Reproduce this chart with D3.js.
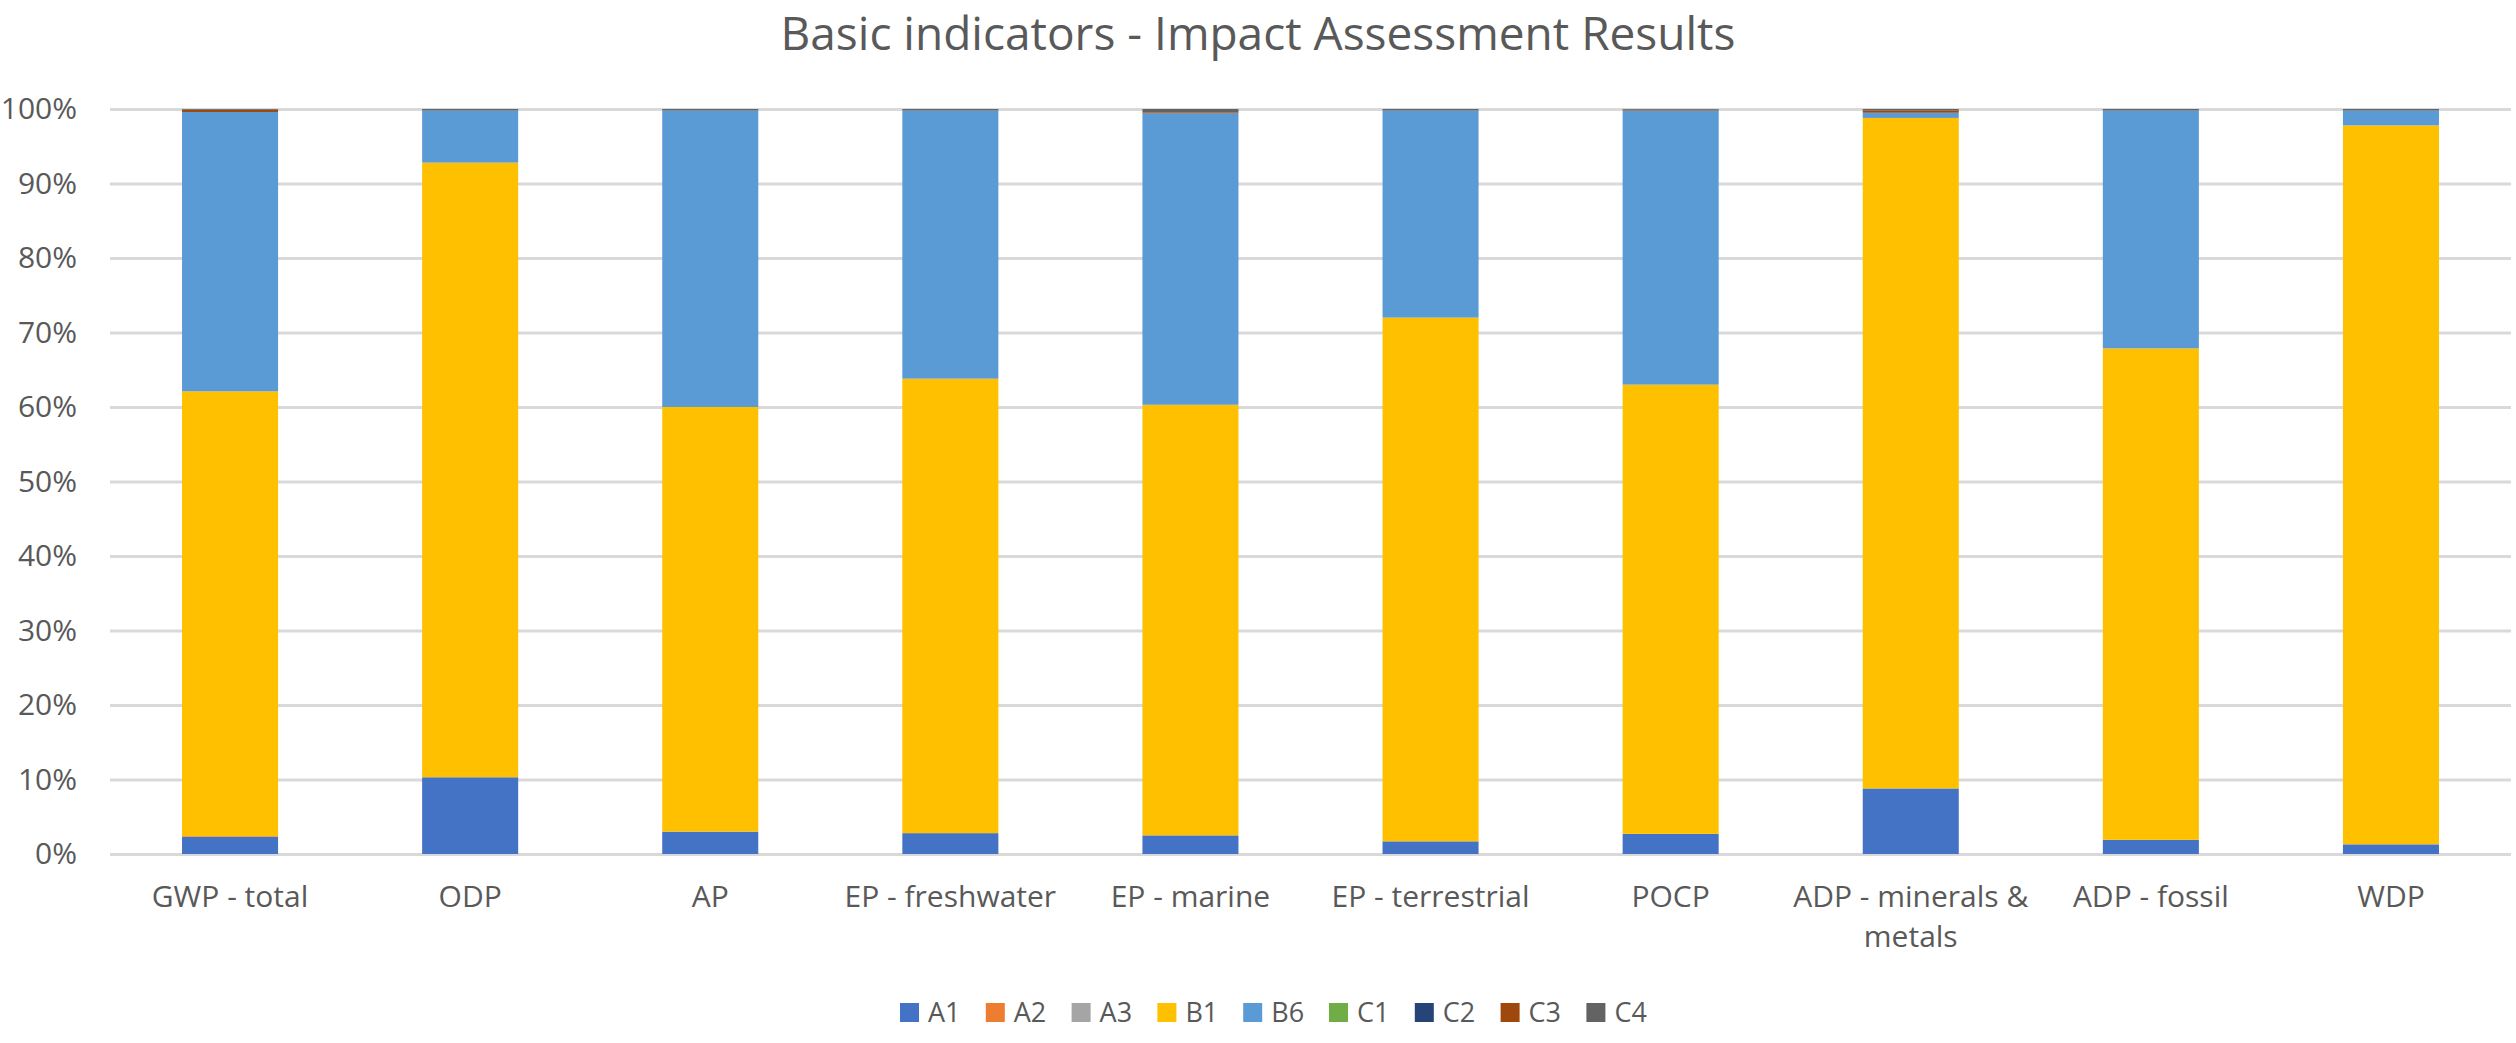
<!DOCTYPE html>
<html>
<head>
<meta charset="utf-8">
<script src="https://cdn.jsdelivr.net/npm/d3@7"></script>
<style>
  body { margin: 0; background: #fff; }
  text { font-family: "Open Sans", sans-serif; fill: #595959; }
</style>
</head>
<body>
<svg id="chart" width="2516" height="1043"></svg>
<script>
// categories (x axis)
const categories = ["GWP - total", "ODP", "AP", "EP - freshwater", "EP - marine",
  "EP - terrestrial", "POCP", "ADP - minerals & metals", "ADP - fossil", "WDP"];

// series (percent share of each module)
const seriesNames = ["A1", "A2", "A3", "B1", "B6", "C1", "C2", "C3", "C4"];
const A1 = [2.3, 10.3, 3.0, 2.8, 2.5, 1.7, 2.7, 8.8, 1.9, 1.3];
const A2 = [0.1, 0.0, 0.0, 0.0, 0.0, 0.0, 0.0, 0.0, 0.0, 0.0];
const A3 = [0.0, 0.0, 0.0, 0.0, 0.0, 0.0, 0.0, 0.0, 0.0, 0.0];
const B1 = [59.7, 82.5, 57.0, 61.0, 57.8, 70.3, 60.3, 90.0, 65.9, 96.5];
const B6 = [37.5, 7.0, 39.8, 36.0, 39.1, 27.8, 36.8, 0.7, 31.9, 2.0];
const C1 = [0.0, 0.0, 0.0, 0.0, 0.0, 0.0, 0.0, 0.0, 0.0, 0.0];
const C2 = [0.0, 0.0, 0.0, 0.0, 0.0, 0.0, 0.0, 0.0, 0.0, 0.0];
const C3 = [0.3, 0.0, 0.0, 0.0, 0.1, 0.0, 0.1, 0.3, 0.0, 0.0];
const C4 = [0.1, 0.2, 0.2, 0.2, 0.5, 0.2, 0.1, 0.2, 0.2, 0.2];
const seriesColors = ["#4472C4", "#ED7D31", "#A5A5A5", "#FFC000", "#5B9BD5",
  "#70AD47", "#264478", "#9E480E", "#636363"];

// y tick labels
const yTicks = [0, 0.1, 0.2, 0.3, 0.4, 0.5, 0.6, 0.7, 0.8, 0.9, 1];

const seriesValues = [A1, A2, A3, B1, B6, C1, C2, C3, C4];
let rows = categories.map(function(c, i) {
    let r = {cat: c};
    seriesNames.forEach(function(s, j) { r[s] = seriesValues[j][i]; });
    return r;
});

let svg = d3.select("#chart");
let padding = {top: 109, bottom: 189, left: 110, right: 5};
let width = 2516, height = 1043;

let x = d3.scaleBand()
    .domain(categories)
    .range([padding.left, width - padding.right])
    .paddingInner(0.6)
    .paddingOuter(0.3);
let y = d3.scaleLinear()
    .domain([0, 1])
    .range([height - padding.bottom, padding.top]);

let color = d3.scaleOrdinal().domain(seriesNames).range(seriesColors);

// title
svg.append("text")
    .attr("x", width / 2)
    .attr("y", 50)
    .attr("text-anchor", "middle")
    .style("font-size", "46px")
    .text("Basic indicators - Impact Assessment Results");

// gridlines + y labels
let yAxis = d3.axisLeft(y)
    .tickValues(yTicks)
    .tickFormat(d3.format(".0%"))
    .tickSize(-(width - padding.right - padding.left))
    .tickPadding(33);
let gY = svg.append("g")
    .attr("transform", "translate(" + padding.left + ",0)")
    .call(yAxis);
gY.select(".domain").remove();
gY.selectAll(".tick line").attr("stroke", "#d9d9d9").attr("stroke-width", 3);
gY.selectAll(".tick text").style("font-size", "30px").attr("fill", "#595959");

// stacked bars
let stack = d3.stack().keys(seriesNames).offset(d3.stackOffsetExpand);
let layers = stack(rows);

svg.append("g").selectAll("g")
    .data(layers)
    .enter()
    .append("g")
    .attr("fill", function(d) { return color(d.key); })
    .selectAll("rect")
    .data(function(d) { return d; })
    .enter()
    .append("rect")
    .attr("x", function(d) { return x(d.data.cat); })
    .attr("width", x.bandwidth())
    .attr("y", function(d) { return y(d[1]); })
    .attr("height", function(d) { return y(d[0]) - y(d[1]); });

// x labels (wrapped like Excel)
let xLabels = svg.append("g");
categories.forEach(function(c) {
    let cx = x(c) + x.bandwidth() / 2;
    let lines = c === "ADP - minerals & metals" ? ["ADP - minerals &", "metals"] : [c];
    let t = xLabels.append("text")
        .attr("text-anchor", "middle")
        .style("font-size", "30px");
    lines.forEach(function(l, i) {
        t.append("tspan").attr("x", cx).attr("y", 907 + i * 40).text(l);
    });
});

// legend
let legend = svg.append("g").attr("transform", "translate(900,1003)");
let item = legend.selectAll("g")
    .data(seriesNames)
    .enter()
    .append("g")
    .attr("transform", function(d, i) { return "translate(" + (i * 85.8) + ",0)"; });
item.append("rect")
    .attr("width", 19)
    .attr("height", 19)
    .attr("fill", function(d) { return color(d); });
item.append("text")
    .attr("x", 28)
    .attr("y", 19)
    .style("font-size", "27px")
    .text(function(d) { return d; });
</script>
</body>
</html>
